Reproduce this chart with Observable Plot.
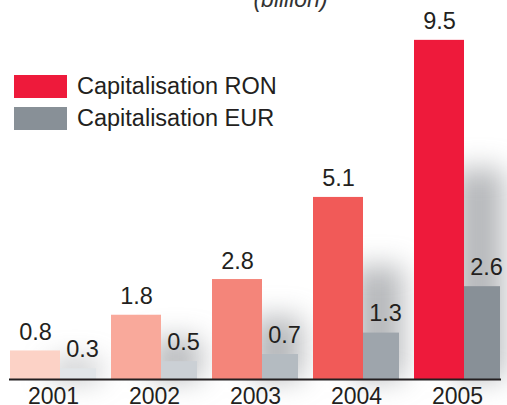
<!DOCTYPE html>
<html>
<head>
<meta charset="utf-8">
<script src="https://cdn.jsdelivr.net/npm/d3@7"></script>
<script src="https://cdn.jsdelivr.net/npm/@observablehq/plot@0.6"></script>
<style>
  html, body { margin: 0; padding: 0; background: #fff; }
  #wrap { position: relative; width: 507px; height: 405px; overflow: hidden; font-family: "Liberation Sans", Arial, Helvetica, sans-serif; }
  .legend { position: absolute; left: 14px; top: 75px; }
  .item { display: flex; align-items: center; height: 23px; margin-bottom: 9px; font-size: 23.5px; color: #231f20; white-space: nowrap; }
  .sw { width: 53px; height: 23px; margin-right: 10px; flex: none; }
</style>
</head>
<body>
<div id="wrap"></div>
<script>
const years = ["2001", "2002", "2003", "2004", "2005"];
const ron = [0.8, 1.8, 2.8, 5.1, 9.5];
const eur = [0.3, 0.5, 0.7, 1.3, 2.6];
const seriesNames = ["Capitalisation RON", "Capitalisation EUR"];
const unitLabel = "(billion)";

const ronColors = ["#fcd2c6", "#f9a99b", "#f4857a", "#f15a58", "#ee1a3b"];
const eurColors = ["#e1e5e8", "#cbd0d5", "#b4bbc1", "#9ea5ac", "#889097"];
const legendColors = ["#ee1a3b", "#889097"];

const ronData = years.map((y, i) => ({year: y, value: ron[i], i}));
const eurData = years.map((y, i) => ({year: y, value: eur[i], i}));

const BW = 86; // band width (px) of a year group
const chart = Plot.plot({
  width: 507,
  height: 405,
  marginLeft: 9,
  marginRight: 6,
  marginTop: 22,
  marginBottom: 26,
  style: {fontFamily: "'Liberation Sans', Arial, Helvetica, sans-serif", background: "transparent", overflow: "visible"},
  x: {domain: years, paddingInner: 0.153, paddingOuter: 0, label: null},
  y: {domain: [0, 10], axis: null},
  marks: [
    // soft shadow cast by the RON bars
    Plot.barY(ronData, {x: "year", y: d => d.value * 0.62, insetRight: BW - 50, dx: 40, fill: "#6d7278", fillOpacity: 0.5, ariaDescription: "shadow"}),
    Plot.barY(ronData, {x: "year", y: "value", insetRight: BW - 50, fill: d => ronColors[d.i]}),
    Plot.barY(eurData, {x: "year", y: "value", insetLeft: 50, fill: d => eurColors[d.i]}),
    Plot.text(ronData, {x: "year", y: "value", text: d => d.value.toFixed(1), dx: -(BW - 50) / 2, dy: -11, lineAnchor: "bottom", fontSize: 23.5, fill: "#231f20"}),
    Plot.text(eurData, {x: "year", y: "value", text: d => d.value.toFixed(1), dx: 50 / 2 + 4, dy: -12, lineAnchor: "bottom", fontSize: 23.5, fill: "#231f20"}),
    Plot.ruleY([0], {stroke: "#231f20", strokeWidth: 2}),
    Plot.axisX({tickSize: 0, tickPadding: 8, fontSize: 23, fill: "#231f20", label: null}),
    Plot.text([unitLabel], {frameAnchor: "top", dx: 35, dy: -16, lineAnchor: "bottom", fontSize: 23, fontStyle: "italic", fill: "#333"})
  ]
});

const sh = chart.querySelector('[aria-description="shadow"]');
if (sh) sh.style.filter = "blur(14px)";

const wrap = document.getElementById("wrap");
wrap.appendChild(chart);

const legend = document.createElement("div");
legend.className = "legend";
seriesNames.forEach((name, k) => {
  const it = document.createElement("div");
  it.className = "item";
  const sw = document.createElement("span");
  sw.className = "sw";
  sw.style.background = legendColors[k];
  const t = document.createElement("span");
  t.textContent = name;
  it.appendChild(sw);
  it.appendChild(t);
  legend.appendChild(it);
});
wrap.appendChild(legend);
</script>
</body>
</html>
